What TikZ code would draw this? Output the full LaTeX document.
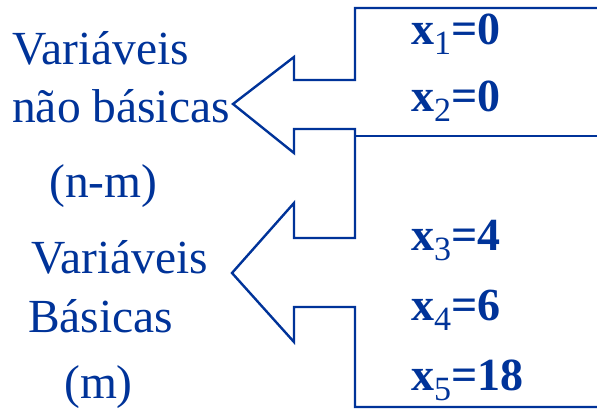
\documentclass[tikz,border=0pt]{standalone}
\usepackage{fontspec}
\setmainfont{Liberation Serif}
\definecolor{navy}{RGB}{0,51,153}
\newcommand\subidx[1]{\raisebox{-10pt}{\fontsize{34}{34}\selectfont\mdseries #1}}
\begin{document}
\begin{tikzpicture}[x=1pt,y=-1pt,
  lbl/.style={anchor=base west,inner sep=0,text=navy,font=\fontsize{47.5}{47.5}\selectfont},
  val/.style={anchor=base west,inner sep=0,text=navy,font=\fontsize{46}{46}\selectfont\bfseries},
  outline/.style={draw=navy,line width=2.4pt}]
\useasboundingbox (0,0) rectangle (597,409);
\draw[outline] (597,8) -- (355,8) -- (355,80) -- (294,80) -- (294,57) -- (233,104) -- (294,153) -- (294,129) -- (355,129)
  -- (355,238) -- (294,238) -- (294,203) -- (232,273) -- (294,342) -- (294,307) -- (355,307) -- (355,407) -- (597,407);
\draw[outline] (355,136) -- (597,136);
\node[val] (x1) at (411,45) {x\subidx{1}=0};
\node[val] (x2) at (411,112) {x\subidx{2}=0};
\node[val] (x3) at (411,250) {x\subidx{3}=4};
\node[val] (x4) at (411,320) {x\subidx{4}=6};
\node[val] (x5) at (411,390) {x\subidx{5}=18};
\node[lbl] (l1) at (12,65) {Variáveis};
\node[lbl] (l2) at (12,123) {não básicas};
\node[lbl] (l3) at (49,197) {(n-m)};
\node[lbl] (l4) at (31,273) {Variáveis};
\node[lbl] (l5) at (28,332) {Básicas};
\node[lbl] (l6) at (64,398) {(m)};
\end{tikzpicture}
\end{document}
